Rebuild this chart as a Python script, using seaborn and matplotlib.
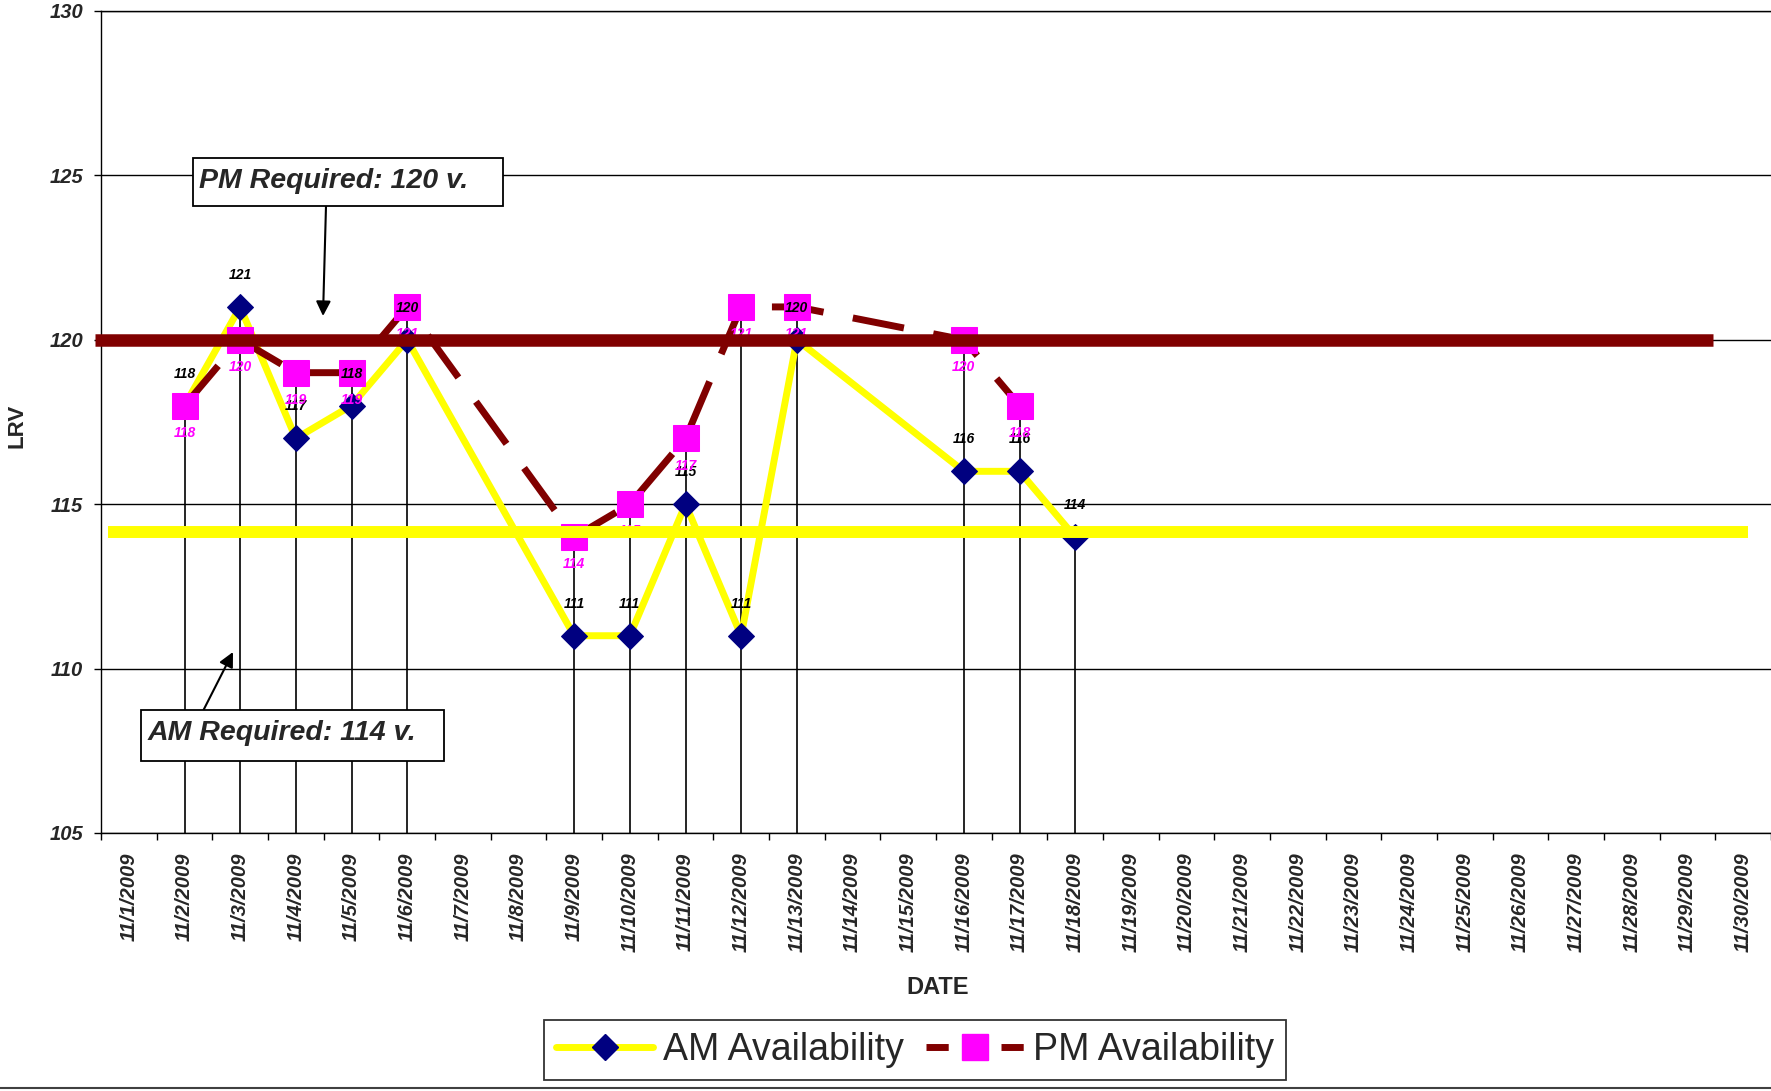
import numpy as np
import pandas as pd
import matplotlib
matplotlib.use("Agg")
import matplotlib.pyplot as plt
import seaborn as sns
from matplotlib.lines import Line2D
from matplotlib.patches import Rectangle

# ---------------- data ----------------
date_labels = ["11/1/2009", "11/2/2009", "11/3/2009", "11/4/2009", "11/5/2009",
               "11/6/2009", "11/7/2009", "11/8/2009", "11/9/2009", "11/10/2009",
               "11/11/2009", "11/12/2009", "11/13/2009", "11/14/2009", "11/15/2009",
               "11/16/2009", "11/17/2009", "11/18/2009", "11/19/2009", "11/20/2009",
               "11/21/2009", "11/22/2009", "11/23/2009", "11/24/2009", "11/25/2009",
               "11/26/2009", "11/27/2009", "11/28/2009", "11/29/2009", "11/30/2009"]
am_days = [2, 3, 4, 5, 6, 9, 10, 11, 12, 13, 16, 17, 18]
am_values = [118, 121, 117, 118, 120, 111, 111, 115, 111, 120, 116, 116, 114]
pm_days = [2, 3, 4, 5, 6, 9, 10, 11, 12, 13, 16, 17]
pm_values = [118, 120, 119, 119, 121, 114, 115, 117, 121, 121, 120, 118]
pm_required_level = 120
am_required_level = 114.15
pm_required_span = [-0.61, 28.46]   # hand-drawn shape extents (category units)
am_required_span = [-0.37, 29.09]
y_ticks = [105, 110, 115, 120, 125, 130]

YELLOW = "#FFFF00"
NAVY = "#000080"
DARKRED = "#800000"
MAGENTA = "#FF00FF"

sns.set_style("white")
plt.rcParams["font.family"] = ["Liberation Sans", "DejaVu Sans"]

W, H = 1771, 1091
fig = plt.figure(figsize=(W / 100, H / 100), dpi=100)
fig.patch.set_facecolor("white")


def fx(x):
    return x / W


def fy(y):
    return 1 - y / H


ax = fig.add_axes([fx(101), fy(833), (W - 101) / W, (833 - 11) / H])

am_df = pd.DataFrame({"x": [d - 1 for d in am_days], "LRV": am_values})
pm_df = pd.DataFrame({"x": [d - 1 for d in pm_days], "LRV": pm_values})

# drop lines
all_days = sorted(set(am_days) | set(pm_days))
tops = []
for d in all_days:
    vals = []
    if d in am_days:
        vals.append(am_values[am_days.index(d)])
    if d in pm_days:
        vals.append(pm_values[pm_days.index(d)])
    tops.append(max(vals))
ax.vlines([d - 1 for d in all_days], 105, tops, color="black", lw=1.2, zorder=2)

sns.lineplot(data=am_df, x="x", y="LRV", ax=ax, color=YELLOW, lw=5,
             marker="D", markersize=13.5, markerfacecolor=NAVY,
             markeredgecolor=NAVY, sort=False, legend=False, zorder=3)
sns.lineplot(data=pm_df, x="x", y="LRV", ax=ax, color=DARKRED, lw=5,
             marker="s", markersize=19, markerfacecolor=MAGENTA,
             markeredgecolor=MAGENTA, sort=False, legend=False, zorder=4)
ax.lines[-1].set_linestyle((0, (7.5, 4.3)))

# data labels
for x, v in zip(am_df["x"], am_df["LRV"]):
    ax.annotate(str(v), (x, v), xytext=(0, 23), textcoords="offset points",
                ha="center", va="center", fontsize=10, fontweight="bold",
                fontstyle="italic", color="black", zorder=5)
for x, v in zip(pm_df["x"], pm_df["LRV"]):
    ax.annotate(str(v), (x, v), xytext=(0, -19.5), textcoords="offset points",
                ha="center", va="center", fontsize=10, fontweight="bold",
                fontstyle="italic", color=MAGENTA, zorder=5)

# required lines (drawn shapes)
ax.plot(pm_required_span, [pm_required_level] * 2, color=DARKRED, lw=9,
        solid_capstyle="butt", clip_on=False, zorder=6)
ax.plot(am_required_span, [am_required_level] * 2, color=YELLOW, lw=8.6,
        solid_capstyle="butt", clip_on=False, zorder=6)

# axes styling
ax.set_ylim(105, 130)
ax.set_xlim(-0.5, 29.5)
ax.set_yticks(y_ticks)
ax.set_yticklabels([str(t) for t in y_ticks], fontsize=14.5,
                   fontweight="bold", fontstyle="italic")
ax.yaxis.grid(True, color="black", lw=1)
ax.xaxis.grid(False)
ax.set_axisbelow(True)
ax.tick_params(axis="y", which="major", left=True, length=5, width=1,
               color="black", pad=8, direction="out")

ax.set_xticks(np.arange(-0.5, 30, 1))
ax.set_xticklabels([])
ax.set_xticks(np.arange(30), minor=True)
ax.set_xticklabels(date_labels, minor=True, rotation=90, fontsize=14.5,
                   fontweight="bold", fontstyle="italic", va="top", ha="center")
ax.tick_params(axis="x", which="major", bottom=True, length=5, width=1,
               color="black", direction="out")
ax.tick_params(axis="x", which="minor", bottom=True, length=0, pad=14)

for s in ["left", "bottom", "top"]:
    ax.spines[s].set_visible(True)
    ax.spines[s].set_color("black")
    ax.spines[s].set_linewidth(1)
ax.spines["right"].set_visible(False)

ax.set_xlabel("")
ax.set_ylabel("")
fig.text(fx(17), fy(426), "LRV", rotation=90, ha="center", va="center",
         fontsize=16, fontweight="bold")
fig.text(fx(938), fy(987), "DATE", ha="center", va="center",
         fontsize=17, fontweight="bold")

# annotation boxes
fig.patches.append(Rectangle((fx(193), fy(206)), (503 - 193) / W, (206 - 158) / H,
                             transform=fig.transFigure, facecolor="white",
                             edgecolor="black", lw=1.3, zorder=7))
fig.text(fx(199), fy(181), "PM Required: 120 v.", ha="left", va="center",
         fontsize=20.5, fontweight="bold", fontstyle="italic", zorder=8)
fig.patches.append(Rectangle((fx(141), fy(761)), (444 - 141) / W, (761 - 710) / H,
                             transform=fig.transFigure, facecolor="white",
                             edgecolor="black", lw=1.3, zorder=7))
fig.text(fx(148), fy(733), "AM Required: 114 v.", ha="left", va="center",
         fontsize=20.5, fontweight="bold", fontstyle="italic", zorder=8)

arrow_kw = dict(arrowstyle="-|>", color="black", lw=1.5, mutation_scale=22,
                shrinkA=0, shrinkB=0)
ax.annotate("", xy=(323, H - 316), xytext=(326, H - 206), xycoords="figure pixels",
            textcoords="figure pixels", arrowprops=arrow_kw, annotation_clip=False,
            zorder=8)
ax.annotate("", xy=(233, H - 652), xytext=(203, H - 711), xycoords="figure pixels",
            textcoords="figure pixels", arrowprops=arrow_kw, annotation_clip=False,
            zorder=8)

# legend
h_am = Line2D([], [], color=YELLOW, lw=5, marker="D", markersize=13.5,
              markerfacecolor=NAVY, markeredgecolor=NAVY)
h_pm = Line2D([], [], color=DARKRED, lw=5, linestyle=(0, (3.2, 2.2)), marker="s",
              markersize=19, markerfacecolor=MAGENTA, markeredgecolor=MAGENTA)
leg = fig.legend([h_am, h_pm], ["AM Availability", "PM Availability"],
                 loc="center", bbox_to_anchor=(fx(915), fy(1050)), ncol=2,
                 frameon=True, fancybox=False, fontsize=27, handlelength=2.6,
                 handletextpad=0.25, columnspacing=0.6, borderpad=0.33,
                 borderaxespad=0)
leg.get_frame().set_edgecolor("black")
leg.get_frame().set_linewidth(1.3)

# chart-area border at bottom
fig.add_artist(Line2D([0, 1], [fy(1088), fy(1088)], transform=fig.transFigure,
                      color="#404040", lw=1.5))

fig.savefig("out.png", dpi=100, facecolor="white")
